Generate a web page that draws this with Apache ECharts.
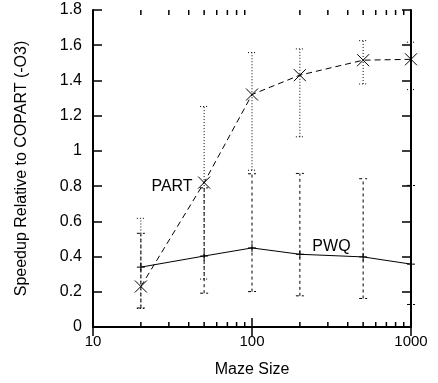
<!DOCTYPE html>
<html>
<head>
<meta charset="utf-8">
<script src="https://cdn.jsdelivr.net/npm/echarts@6/dist/echarts.min.js"></script>
<style>
  html, body { margin: 0; padding: 0; background: #fff; }
  #chart { width: 438px; height: 383px; }
</style>
</head>
<body>
<div id="chart"></div>
<script>
// maze sizes (x, log scale)
const mazeSizes = [20, 50, 100, 200, 500, 1000]

// PART: mean speedup + error range
const partMean = [0.23, 0.82, 1.32, 1.43, 1.515, 1.52]
const partLow = [0.105, 0.272, 0.89, 1.08, 1.38, 1.348]
const partHigh = [0.617, 1.252, 1.558, 1.579, 1.626, 1.617]

// PWQ: mean speedup + error range
const pwqMean = [0.34, 0.403, 0.449, 0.413, 0.398, 0.357]
const pwqLow = [0.108, 0.192, 0.201, 0.177, 0.162, 0.128]
const pwqHigh = [0.532, 0.79, 0.87, 0.872, 0.842, 0.804]

// minor ticks of the log axis
const minorTickValues = [20, 30, 40, 50, 60, 70, 80, 90, 200, 300, 400, 500, 600, 700, 800, 900]

const FONT = 'Liberation Sans'

const pairs = (ys) => mazeSizes.map((x, i) => [x, ys[i]])
const ranges = (lo, hi) => mazeSizes.map((x, i) => [x, lo[i], hi[i]])

function errorBars(dash) {
  return function (params, api) {
    const x = api.value(0)
    const p = api.coord([x, api.value(1)])
    const q = api.coord([x, api.value(2)])
    const style = { stroke: '#000', lineWidth: 1, lineDash: dash }
    return {
      type: 'group',
      children: [
        { type: 'line', shape: { x1: p[0], y1: p[1], x2: q[0], y2: q[1] }, style },
        { type: 'line', shape: { x1: p[0] - 4, y1: p[1], x2: p[0] + 4, y2: p[1] }, style },
        { type: 'line', shape: { x1: q[0] - 4, y1: q[1], x2: q[0] + 4, y2: q[1] }, style },
      ],
    }
  }
}

const axisCommon = {
  axisLine: { lineStyle: { color: '#000', width: 2 } },
  axisTick: { inside: true, length: 9, lineStyle: { color: '#000', width: 1.5 } },
  splitLine: { show: false },
  axisLabel: { color: '#000', fontFamily: FONT, fontSize: 15 },
}

const nameStyle = { color: '#000', fontFamily: FONT, fontSize: 16 }
const labelStyle = { color: '#000', fontFamily: FONT, fontSize: 16 }

const option = {
  animation: false,
  textStyle: { fontFamily: FONT },
  grid: { left: 93, right: 27, top: 10, bottom: 55 },
  xAxis: [
    {
      ...axisCommon,
      type: 'log',
      logBase: 10,
      min: 10,
      max: 1000,
      name: 'Maze Size',
      nameLocation: 'middle',
      nameGap: 35,
      nameTextStyle: nameStyle,
      axisLabel: { ...axisCommon.axisLabel, margin: 7, formatter: v => String(v) },
    },
    {
      ...axisCommon,
      type: 'log',
      logBase: 10,
      min: 10,
      max: 1000,
      position: 'top',
      axisLabel: { show: false },
    },
  ],
  yAxis: [
    {
      ...axisCommon,
      type: 'value',
      min: 0,
      max: 1.8,
      interval: 0.2,
      name: 'Speedup Relative to COPART (-O3)',
      nameLocation: 'middle',
      nameGap: 63,
      nameTextStyle: nameStyle,
      axisLabel: { ...axisCommon.axisLabel, fontSize: 16, margin: 11 },
    },
    {
      ...axisCommon,
      type: 'value',
      min: 0,
      max: 1.8,
      interval: 0.2,
      position: 'right',
      axisLabel: { show: false },
    },
  ],
  series: [
    {
      name: 'minor ticks',
      type: 'custom',
      data: minorTickValues.map(v => [v]),
      silent: true,
      clip: false,
      z: 5,
      renderItem: function (params, api) {
        const x = api.value(0)
        const b = api.coord([x, 0])
        const t = api.coord([x, 1.8])
        const style = { stroke: '#000', lineWidth: 1.5 }
        return {
          type: 'group',
          children: [
            { type: 'line', shape: { x1: b[0], y1: b[1], x2: b[0], y2: b[1] - 5 }, style },
            { type: 'line', shape: { x1: t[0], y1: t[1], x2: t[0], y2: t[1] + 5 }, style },
          ],
        }
      },
    },
    {
      name: 'PART err',
      type: 'custom',
      data: ranges(partLow, partHigh),
      clip: false,
      renderItem: errorBars([1, 2]),
    },
    {
      name: 'PWQ err',
      type: 'custom',
      data: ranges(pwqLow, pwqHigh),
      clip: false,
      renderItem: errorBars([3, 3]),
    },
    {
      name: 'PART',
      type: 'line',
      data: pairs(partMean).map((d, i) => i === 1
        ? { value: d, label: { show: true, formatter: 'PART', position: 'left', distance: 3, offset: [0, 4], ...labelStyle } }
        : d),
      symbol: 'path://M0,0L10,10M10,0L0,10',
      symbolSize: 12,
      showAllSymbol: true,
      lineStyle: { color: '#000', width: 1, type: [6, 4] },
      itemStyle: { color: 'none', borderColor: '#000', borderWidth: 1 },
      z: 10,
    },
    {
      name: 'PWQ',
      type: 'line',
      data: pairs(pwqMean).map((d, i) => i === 3
        ? { value: d, label: { show: true, formatter: 'PWQ', position: 'right', distance: 6, offset: [0, -8], ...labelStyle } }
        : d),
      symbol: 'path://M5,0L5,10M0,5L10,5',
      symbolSize: 8,
      showAllSymbol: true,
      lineStyle: { color: '#000', width: 1 },
      itemStyle: { color: 'none', borderColor: '#000', borderWidth: 1 },
      z: 10,
    },
  ],
}

const chart = echarts.init(document.getElementById('chart'))
chart.setOption(option)
</script>
</body>
</html>
